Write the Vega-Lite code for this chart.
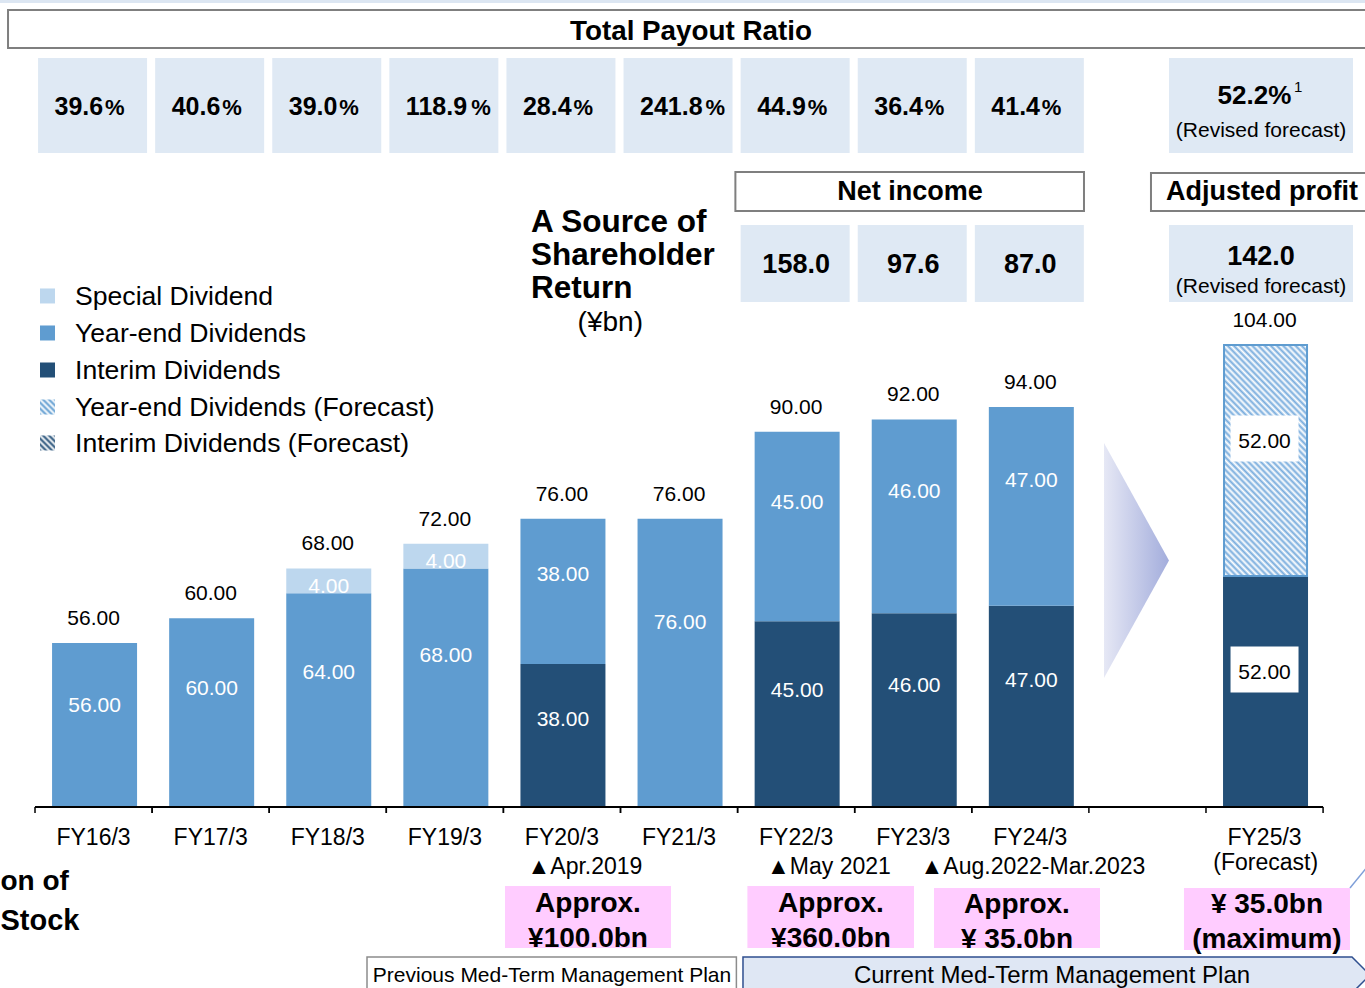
{
"$schema":"https://vega.github.io/schema/vega-lite/v6.json",
"width":1365,"height":988,"padding":0,
"autosize":{"type":"fit","contains":"padding"},
"background":"#ffffff",
"config":{"view":{"stroke":null},"font":"Liberation Sans","text":{"font":"Liberation Sans","color":"#000000"}},
"datasets":{
"bars":[
{"fy":"FY16/3","i":0,"kind":"Year-end Dividends","lo":29.6,"hi":56,"value":56},
{"fy":"FY17/3","i":1,"kind":"Year-end Dividends","lo":29.6,"hi":60,"value":60},
{"fy":"FY18/3","i":2,"kind":"Year-end Dividends","lo":29.6,"hi":64,"value":64},
{"fy":"FY18/3","i":2,"kind":"Special Dividend","lo":64,"hi":68,"value":4},
{"fy":"FY19/3","i":3,"kind":"Year-end Dividends","lo":29.6,"hi":68,"value":68},
{"fy":"FY19/3","i":3,"kind":"Special Dividend","lo":68,"hi":72,"value":4},
{"fy":"FY20/3","i":4,"kind":"Interim Dividends","lo":29.6,"hi":52.6,"value":38},
{"fy":"FY20/3","i":4,"kind":"Year-end Dividends","lo":52.6,"hi":76,"value":38},
{"fy":"FY21/3","i":5,"kind":"Year-end Dividends","lo":29.6,"hi":76,"value":76},
{"fy":"FY22/3","i":6,"kind":"Interim Dividends","lo":29.6,"hi":59.5,"value":45},
{"fy":"FY22/3","i":6,"kind":"Year-end Dividends","lo":59.5,"hi":90,"value":45},
{"fy":"FY23/3","i":7,"kind":"Interim Dividends","lo":29.6,"hi":60.8,"value":46},
{"fy":"FY23/3","i":7,"kind":"Year-end Dividends","lo":60.8,"hi":92,"value":46},
{"fy":"FY24/3","i":8,"kind":"Interim Dividends","lo":29.6,"hi":62,"value":47},
{"fy":"FY24/3","i":8,"kind":"Year-end Dividends","lo":62,"hi":94,"value":47},
{"fy":"FY25/3","i":10,"kind":"Interim Dividends","lo":29.6,"hi":66.8,"value":52},
{"fy":"FY25/3","i":10,"kind":"Year-end Dividends (Forecast)","lo":66.8,"hi":104,"value":52}
],
"ratios":[
{"fy":"FY16/3","i":0,"ratio":39.6},{"fy":"FY17/3","i":1,"ratio":40.6},{"fy":"FY18/3","i":2,"ratio":39.0},
{"fy":"FY19/3","i":3,"ratio":118.9},{"fy":"FY20/3","i":4,"ratio":28.4},{"fy":"FY21/3","i":5,"ratio":241.8},
{"fy":"FY22/3","i":6,"ratio":44.9},{"fy":"FY23/3","i":7,"ratio":36.4},{"fy":"FY24/3","i":8,"ratio":41.4}
],
"income":[
{"fy":"FY22/3","i":6,"income":158.0},{"fy":"FY23/3","i":7,"income":97.6},{"fy":"FY24/3","i":8,"income":87.0}
]
},
"layer":[
{"data":{"values":[{"n":1}]},"mark":{"type":"rect","color":"#dce6f2","clip":true},"encoding":{"x":{"datum":-0.799,"type":"quantitative","scale":{"domain":[-0.799,10.858],"nice":false,"zero":false,"padding":0},"axis":null},"x2":{"datum":10.858},"y":{"datum":159.54,"type":"quantitative","scale":{"domain":[0.445,159.54],"nice":false,"zero":false,"padding":0},"axis":null},"y2":{"datum":159.06}}},
{"data":{"values":[{"n":1}]},"mark":{"type":"rect","fill":"#ffffff","stroke":"#7f7f7f","strokeWidth":2,"clip":true},"encoding":{"x":{"datum":-0.7305,"type":"quantitative"},"x2":{"datum":10.95},"y":{"datum":157.933,"type":"quantitative"},"y2":{"datum":151.814}}},
{"data":{"values":[{"t":"Total Payout Ratio"}]},"mark":{"type":"text","fontSize":27.8,"fontWeight":"bold","align":"center","baseline":"middle"},"encoding":{"x":{"datum":5.102,"type":"quantitative"},"y":{"datum":154.39,"type":"quantitative"},"text":{"field":"t","type":"nominal"}}},
{"data":{"name":"ratios"},"mark":{"type":"bar","color":"#dfe9f4","width":109,"xOffset":-1},"encoding":{"x":{"field":"i","type":"quantitative"},"y":{"datum":150.204,"type":"quantitative"},"y2":{"datum":134.906}}},
{"data":{"values":[{"n":1}]},"mark":{"type":"rect","color":"#dfe9f4"},"encoding":{"x":{"datum":9.184,"type":"quantitative"},"x2":{"datum":10.7553},"y":{"datum":150.204,"type":"quantitative"},"y2":{"datum":134.906}}},
{"data":{"name":"ratios"},"mark":{"type":"text","fontSize":25,"fontWeight":"bold","align":"left","baseline":"alphabetic","dx":-39},"encoding":{"x":{"field":"i","type":"quantitative"},"y":{"datum":141.03,"type":"quantitative"},"text":{"field":"ratio","type":"quantitative","format":".1f"}}},
{"data":{"name":"ratios"},"transform":[{"filter":"datum.ratio < 100"}],"mark":{"type":"text","text":"%","fontSize":22,"fontWeight":"bold","align":"left","baseline":"alphabetic","dx":11.5},"encoding":{"x":{"field":"i","type":"quantitative"},"y":{"datum":141.03,"type":"quantitative"}}},
{"data":{"name":"ratios"},"transform":[{"filter":"datum.ratio >= 100"}],"mark":{"type":"text","text":"%","fontSize":22,"fontWeight":"bold","align":"left","baseline":"alphabetic","dx":26.5},"encoding":{"x":{"field":"i","type":"quantitative"},"y":{"datum":141.03,"type":"quantitative"}}},
{"data":{"values":[{"t":"52.2%"}]},"mark":{"type":"text","fontSize":26,"fontWeight":"bold","align":"center","baseline":"alphabetic"},"encoding":{"x":{"datum":9.914,"type":"quantitative"},"y":{"datum":142.8,"type":"quantitative"},"text":{"field":"t","type":"nominal"}}},
{"data":{"values":[{"t":"1"}]},"mark":{"type":"text","fontSize":15,"align":"left","baseline":"alphabetic"},"encoding":{"x":{"datum":10.2515,"type":"quantitative"},"y":{"datum":144.73,"type":"quantitative"},"text":{"field":"t","type":"nominal"}}},
{"data":{"values":[{"t":"(Revised forecast)"}]},"mark":{"type":"text","fontSize":21,"align":"center","baseline":"middle"},"encoding":{"x":{"datum":9.97,"type":"quantitative"},"y":{"datum":138.449,"type":"quantitative"},"text":{"field":"t","type":"nominal"}}},
{"data":{"values":[{"n":1}]},"mark":{"type":"rect","fill":"#ffffff","stroke":"#7f7f7f","strokeWidth":2},"encoding":{"x":{"datum":5.4812,"type":"quantitative"},"x2":{"datum":8.4582},"y":{"datum":131.846,"type":"quantitative"},"y2":{"datum":125.566}}},
{"data":{"values":[{"t":"Net income"}]},"mark":{"type":"text","fontSize":27,"fontWeight":"bold","align":"center","baseline":"middle"},"encoding":{"x":{"datum":6.9722,"type":"quantitative"},"y":{"datum":128.626,"type":"quantitative"},"text":{"field":"t","type":"nominal"}}},
{"data":{"values":[{"n":1}]},"mark":{"type":"rect","fill":"#ffffff","stroke":"#7f7f7f","strokeWidth":2,"clip":true},"encoding":{"x":{"datum":9.0303,"type":"quantitative"},"x2":{"datum":10.9432},"y":{"datum":131.685,"type":"quantitative"},"y2":{"datum":125.566}}},
{"data":{"values":[{"t":"Adjusted profit"}]},"mark":{"type":"text","fontSize":27,"fontWeight":"bold","align":"center","baseline":"middle"},"encoding":{"x":{"datum":9.978,"type":"quantitative"},"y":{"datum":128.626,"type":"quantitative"},"text":{"field":"t","type":"nominal"}}},
{"data":{"name":"income"},"mark":{"type":"bar","color":"#dfe9f4","width":109,"xOffset":-1},"encoding":{"x":{"field":"i","type":"quantitative"},"y":{"datum":123.312,"type":"quantitative"},"y2":{"datum":110.912}}},
{"data":{"name":"income"},"mark":{"type":"text","fontSize":27,"fontWeight":"bold","align":"center","baseline":"middle"},"encoding":{"x":{"field":"i","type":"quantitative"},"y":{"datum":116.87,"type":"quantitative"},"text":{"field":"income","type":"quantitative","format":".1f"}}},
{"data":{"values":[{"n":1}]},"mark":{"type":"rect","color":"#dfe9f4"},"encoding":{"x":{"datum":9.184,"type":"quantitative"},"x2":{"datum":10.7553},"y":{"datum":123.312,"type":"quantitative"},"y2":{"datum":110.912}}},
{"data":{"values":[{"t":"142.0"}]},"mark":{"type":"text","fontSize":27,"fontWeight":"bold","align":"center","baseline":"middle"},"encoding":{"x":{"datum":9.97,"type":"quantitative"},"y":{"datum":118.159,"type":"quantitative"},"text":{"field":"t","type":"nominal"}}},
{"data":{"values":[{"t":"(Revised forecast)"}]},"mark":{"type":"text","fontSize":21,"align":"center","baseline":"middle"},"encoding":{"x":{"datum":9.97,"type":"quantitative"},"y":{"datum":113.328,"type":"quantitative"},"text":{"field":"t","type":"nominal"}}},
{"data":{"values":[{"t":["A Source of","Shareholder","Return"]}]},"mark":{"type":"text","fontSize":31.5,"fontWeight":"bold","align":"left","baseline":"top","lineHeight":33},"encoding":{"x":{"datum":3.7357,"type":"quantitative"},"y":{"datum":126.13,"type":"quantitative"},"text":{"field":"t","type":"nominal"}}},
{"data":{"values":[{"t":"(¥bn)"}]},"mark":{"type":"text","fontSize":28,"align":"center","baseline":"middle"},"encoding":{"x":{"datum":4.4129,"type":"quantitative"},"y":{"datum":107.531,"type":"quantitative"},"text":{"field":"t","type":"nominal"}}},
{"data":{"values":[{"t":["Special Dividend","Year-end Dividends","Interim Dividends","Year-end Dividends (Forecast)","Interim Dividends (Forecast)"]}]},"mark":{"type":"text","fontSize":26.6,"align":"left","baseline":"top","lineHeight":36.75},"encoding":{"x":{"datum":-0.1584,"type":"quantitative"},"y":{"datum":113.76,"type":"quantitative"},"text":{"field":"t","type":"nominal"}}},
{"data":{"values":[{"n":1}]},"mark":{"type":"point","shape":"square","size":225,"filled":true,"opacity":1,"color":"#bdd7ee"},"encoding":{"x":{"datum":-0.3933,"type":"quantitative"},"y":{"datum":111.88,"type":"quantitative"}}},
{"data":{"values":[{"n":1}]},"mark":{"type":"point","shape":"square","size":225,"filled":true,"opacity":1,"color":"#5f9cd0"},"encoding":{"x":{"datum":-0.3933,"type":"quantitative"},"y":{"datum":105.92,"type":"quantitative"}}},
{"data":{"values":[{"n":1}]},"mark":{"type":"point","shape":"square","size":225,"filled":true,"opacity":1,"color":"#234f77"},"encoding":{"x":{"datum":-0.3933,"type":"quantitative"},"y":{"datum":99.96,"type":"quantitative"}}},
{"data":{"values":[{"n":1}]},"mark":{"type":"point","shape":"square","size":225,"filled":true,"opacity":1,"fill":{"gradient":"linear","x1":0,"y1":1,"x2":1,"y2":0,"stops":[{"offset":0,"color":"#5f9cd0"},{"offset":0.1,"color":"#ffffff"},{"offset":0.2,"color":"#5f9cd0"},{"offset":0.3,"color":"#ffffff"},{"offset":0.4,"color":"#5f9cd0"},{"offset":0.5,"color":"#ffffff"},{"offset":0.6,"color":"#5f9cd0"},{"offset":0.7,"color":"#ffffff"},{"offset":0.8,"color":"#5f9cd0"},{"offset":0.9,"color":"#ffffff"},{"offset":1,"color":"#5f9cd0"}]}},"encoding":{"x":{"datum":-0.3933,"type":"quantitative"},"y":{"datum":94.0,"type":"quantitative"}}},
{"data":{"values":[{"n":1}]},"mark":{"type":"point","shape":"square","size":225,"filled":true,"opacity":1,"fill":{"gradient":"linear","x1":0,"y1":1,"x2":1,"y2":0,"stops":[{"offset":0,"color":"#234f77"},{"offset":0.1,"color":"#ffffff"},{"offset":0.2,"color":"#234f77"},{"offset":0.3,"color":"#ffffff"},{"offset":0.4,"color":"#234f77"},{"offset":0.5,"color":"#ffffff"},{"offset":0.6,"color":"#234f77"},{"offset":0.7,"color":"#ffffff"},{"offset":0.8,"color":"#234f77"},{"offset":0.9,"color":"#ffffff"},{"offset":1,"color":"#234f77"}]}},"encoding":{"x":{"datum":-0.3933,"type":"quantitative"},"y":{"datum":88.21,"type":"quantitative"}}},
{"data":{"name":"bars"},"transform":[{"filter":"datum.kind != 'Year-end Dividends (Forecast)'"}],"mark":{"type":"bar","width":85,"xOffset":1},"encoding":{"x":{"field":"i","type":"quantitative"},"y":{"field":"lo","type":"quantitative"},"y2":{"field":"hi"},"color":{"field":"kind","type":"nominal","scale":{"domain":["Special Dividend","Year-end Dividends","Interim Dividends"],"range":["#bdd7ee","#5f9cd0","#234f77"]},"legend":null}}},
{"data":{"name":"bars"},"transform":[{"filter":"datum.kind == 'Year-end Dividends (Forecast)'"}],"mark":{"type":"bar","width":83,"xOffset":1,"stroke":"#5f9cd0","strokeWidth":2,"fill":{"gradient":"linear","x1":0,"y1":1,"x2":0.4435,"y2":-0.205,"stops":[
{"offset":0,"color":"#78acdd"},{"offset":0.01,"color":"#ffffff"},{"offset":0.02,"color":"#78acdd"},{"offset":0.03,"color":"#ffffff"},{"offset":0.04,"color":"#78acdd"},{"offset":0.05,"color":"#ffffff"},{"offset":0.06,"color":"#78acdd"},{"offset":0.07,"color":"#ffffff"},{"offset":0.08,"color":"#78acdd"},{"offset":0.09,"color":"#ffffff"},
{"offset":0.1,"color":"#78acdd"},{"offset":0.11,"color":"#ffffff"},{"offset":0.12,"color":"#78acdd"},{"offset":0.13,"color":"#ffffff"},{"offset":0.14,"color":"#78acdd"},{"offset":0.15,"color":"#ffffff"},{"offset":0.16,"color":"#78acdd"},{"offset":0.17,"color":"#ffffff"},{"offset":0.18,"color":"#78acdd"},{"offset":0.19,"color":"#ffffff"},
{"offset":0.2,"color":"#78acdd"},{"offset":0.21,"color":"#ffffff"},{"offset":0.22,"color":"#78acdd"},{"offset":0.23,"color":"#ffffff"},{"offset":0.24,"color":"#78acdd"},{"offset":0.25,"color":"#ffffff"},{"offset":0.26,"color":"#78acdd"},{"offset":0.27,"color":"#ffffff"},{"offset":0.28,"color":"#78acdd"},{"offset":0.29,"color":"#ffffff"},
{"offset":0.3,"color":"#78acdd"},{"offset":0.31,"color":"#ffffff"},{"offset":0.32,"color":"#78acdd"},{"offset":0.33,"color":"#ffffff"},{"offset":0.34,"color":"#78acdd"},{"offset":0.35,"color":"#ffffff"},{"offset":0.36,"color":"#78acdd"},{"offset":0.37,"color":"#ffffff"},{"offset":0.38,"color":"#78acdd"},{"offset":0.39,"color":"#ffffff"},
{"offset":0.4,"color":"#78acdd"},{"offset":0.41,"color":"#ffffff"},{"offset":0.42,"color":"#78acdd"},{"offset":0.43,"color":"#ffffff"},{"offset":0.44,"color":"#78acdd"},{"offset":0.45,"color":"#ffffff"},{"offset":0.46,"color":"#78acdd"},{"offset":0.47,"color":"#ffffff"},{"offset":0.48,"color":"#78acdd"},{"offset":0.49,"color":"#ffffff"},
{"offset":0.5,"color":"#78acdd"},{"offset":0.51,"color":"#ffffff"},{"offset":0.52,"color":"#78acdd"},{"offset":0.53,"color":"#ffffff"},{"offset":0.54,"color":"#78acdd"},{"offset":0.55,"color":"#ffffff"},{"offset":0.56,"color":"#78acdd"},{"offset":0.57,"color":"#ffffff"},{"offset":0.58,"color":"#78acdd"},{"offset":0.59,"color":"#ffffff"},
{"offset":0.6,"color":"#78acdd"},{"offset":0.61,"color":"#ffffff"},{"offset":0.62,"color":"#78acdd"},{"offset":0.63,"color":"#ffffff"},{"offset":0.64,"color":"#78acdd"},{"offset":0.65,"color":"#ffffff"},{"offset":0.66,"color":"#78acdd"},{"offset":0.67,"color":"#ffffff"},{"offset":0.68,"color":"#78acdd"},{"offset":0.69,"color":"#ffffff"},
{"offset":0.7,"color":"#78acdd"},{"offset":0.71,"color":"#ffffff"},{"offset":0.72,"color":"#78acdd"},{"offset":0.73,"color":"#ffffff"},{"offset":0.74,"color":"#78acdd"},{"offset":0.75,"color":"#ffffff"},{"offset":0.76,"color":"#78acdd"},{"offset":0.77,"color":"#ffffff"},{"offset":0.78,"color":"#78acdd"},{"offset":0.79,"color":"#ffffff"},
{"offset":0.8,"color":"#78acdd"},{"offset":0.81,"color":"#ffffff"},{"offset":0.82,"color":"#78acdd"},{"offset":0.83,"color":"#ffffff"},{"offset":0.84,"color":"#78acdd"},{"offset":0.85,"color":"#ffffff"},{"offset":0.86,"color":"#78acdd"},{"offset":0.87,"color":"#ffffff"},{"offset":0.88,"color":"#78acdd"},{"offset":0.89,"color":"#ffffff"},
{"offset":0.9,"color":"#78acdd"},{"offset":0.91,"color":"#ffffff"},{"offset":0.92,"color":"#78acdd"},{"offset":0.93,"color":"#ffffff"},{"offset":0.94,"color":"#78acdd"},{"offset":0.95,"color":"#ffffff"},{"offset":0.96,"color":"#78acdd"},{"offset":0.97,"color":"#ffffff"},{"offset":0.98,"color":"#78acdd"},{"offset":0.99,"color":"#ffffff"},
{"offset":1,"color":"#78acdd"}]}},"encoding":{"x":{"field":"i","type":"quantitative"},"y":{"field":"lo","type":"quantitative"},"y2":{"field":"hi"}}},
{"data":{"values":[{"n":1}]},"mark":{"type":"rule","color":"#000000","strokeWidth":2},"encoding":{"x":{"datum":-0.5,"type":"quantitative"},"x2":{"datum":10.5},"y":{"datum":29.592,"type":"quantitative"}}},
{"data":{"name":"bars"},"transform":[{"aggregate":[{"op":"count","as":"n"}],"groupby":["i"]}],"mark":{"type":"rule","color":"#000000","strokeWidth":1.5,"xOffset":-58.55},"encoding":{"x":{"field":"i","type":"quantitative"},"y":{"datum":29.592,"type":"quantitative"},"y2":{"datum":28.625}}},
{"data":{"name":"bars"},"transform":[{"aggregate":[{"op":"count","as":"n"}],"groupby":["i"]}],"mark":{"type":"rule","color":"#000000","strokeWidth":1.5,"xOffset":58.55},"encoding":{"x":{"field":"i","type":"quantitative"},"y":{"datum":29.592,"type":"quantitative"},"y2":{"datum":28.625}}},
{"data":{"name":"bars"},"transform":[{"fold":["lo","hi","hi"],"as":["edge","yv"]},{"aggregate":[{"op":"mean","field":"yv","as":"mid"}],"groupby":["fy","i","kind","value"]},{"filter":"datum.i < 10 && datum.kind != 'Special Dividend'"}],"mark":{"type":"text","fontSize":21,"color":"#ffffff","align":"center","baseline":"middle","dy":8,"dx":1},"encoding":{"x":{"field":"i","type":"quantitative"},"y":{"field":"mid","type":"quantitative"},"text":{"field":"value","type":"quantitative","format":".2f"}}},
{"data":{"name":"bars"},"transform":[{"fold":["lo","hi"],"as":["edge","yv"]},{"aggregate":[{"op":"mean","field":"yv","as":"mid"}],"groupby":["fy","i","kind","value"]},{"filter":"datum.kind == 'Special Dividend'"}],"mark":{"type":"text","fontSize":21,"color":"#ffffff","align":"center","baseline":"middle","dy":6,"dx":1},"encoding":{"x":{"field":"i","type":"quantitative"},"y":{"field":"mid","type":"quantitative"},"text":{"field":"value","type":"quantitative","format":".2f"}}},
{"data":{"name":"bars"},"transform":[{"fold":["lo","hi"],"as":["edge","yv"]},{"aggregate":[{"op":"mean","field":"yv","as":"mid"}],"groupby":["fy","i","kind","value"]},{"filter":"datum.i == 10"}],"mark":{"type":"point","shape":"M-1,-0.676L1,-0.676L1,0.676L-1,0.676Z","size":4624,"filled":true,"opacity":1,"color":"#ffffff","yOffset":-22},"encoding":{"x":{"field":"i","type":"quantitative"},"y":{"field":"mid","type":"quantitative"}}},
{"data":{"name":"bars"},"transform":[{"fold":["lo","hi"],"as":["edge","yv"]},{"aggregate":[{"op":"mean","field":"yv","as":"mid"}],"groupby":["fy","i","kind","value"]},{"filter":"datum.i == 10"}],"mark":{"type":"text","fontSize":21,"color":"#000000","align":"center","baseline":"middle","dy":-18},"encoding":{"x":{"field":"i","type":"quantitative"},"y":{"field":"mid","type":"quantitative"},"text":{"field":"value","type":"quantitative","format":".2f"}}},
{"data":{"name":"bars"},"transform":[{"aggregate":[{"op":"max","field":"hi","as":"top"},{"op":"sum","field":"value","as":"total"}],"groupby":["fy","i"]}],"mark":{"type":"text","fontSize":21,"align":"center","baseline":"middle","dy":-24},"encoding":{"x":{"field":"i","type":"quantitative"},"y":{"field":"top","type":"quantitative"},"text":{"field":"total","type":"quantitative","format":".2f"}}},
{"data":{"name":"bars"},"transform":[{"aggregate":[{"op":"count","as":"n"}],"groupby":["fy","i"]}],"mark":{"type":"text","fontSize":23,"align":"center","baseline":"middle"},"encoding":{"x":{"field":"i","type":"quantitative"},"y":{"datum":24.6,"type":"quantitative"},"text":{"field":"fy","type":"nominal"}}},
{"data":{"values":[{"t":"(Forecast)"}]},"mark":{"type":"text","fontSize":23,"align":"center","baseline":"middle"},"encoding":{"x":{"datum":10.01,"type":"quantitative"},"y":{"datum":20.5,"type":"quantitative"},"text":{"field":"t","type":"nominal"}}},
{"data":{"values":[{"n":1}]},"mark":{"type":"point","shape":"M-0.2766,-1L0.2766,0L-0.2766,1Z","size":55225,"filled":true,"opacity":1,"strokeWidth":0,"fill":{"gradient":"linear","x1":0,"y1":0,"x2":1,"y2":0,"stops":[{"offset":0,"color":"#e6e8f5"},{"offset":1,"color":"#a3addc"}]}},"encoding":{"x":{"datum":8.9065,"type":"quantitative"},"y":{"datum":69.286,"type":"quantitative"}}},
{"data":{"values":[{"t":"▲Apr.2019"}]},"mark":{"type":"text","fontSize":23,"align":"center","baseline":"middle"},"encoding":{"x":{"datum":4.1968,"type":"quantitative"},"y":{"datum":19.93,"type":"quantitative"},"text":{"field":"t","type":"nominal"}}},
{"data":{"values":[{"t":"▲May 2021"}]},"mark":{"type":"text","fontSize":23,"align":"center","baseline":"middle"},"encoding":{"x":{"datum":6.2805,"type":"quantitative"},"y":{"datum":19.93,"type":"quantitative"},"text":{"field":"t","type":"nominal"}}},
{"data":{"values":[{"t":"▲Aug.2022-Mar.2023"}]},"mark":{"type":"text","fontSize":23,"align":"center","baseline":"middle"},"encoding":{"x":{"datum":8.0226,"type":"quantitative"},"y":{"datum":19.93,"type":"quantitative"},"text":{"field":"t","type":"nominal"}}},
{"data":{"values":[{"n":1}]},"mark":{"type":"rect","color":"#ffccff"},"encoding":{"x":{"datum":3.5137,"type":"quantitative"},"x2":{"datum":4.9313},"y":{"datum":16.87,"type":"quantitative"},"y2":{"datum":6.886}}},
{"data":{"values":[{"t":["Approx.","¥100.0bn"]}]},"mark":{"type":"text","fontSize":28,"fontWeight":"bold","align":"center","baseline":"top","lineHeight":35},"encoding":{"x":{"datum":4.2224,"type":"quantitative"},"y":{"datum":16.226,"type":"quantitative"},"text":{"field":"t","type":"nominal"}}},
{"data":{"values":[{"n":1}]},"mark":{"type":"rect","color":"#ffccff"},"encoding":{"x":{"datum":5.5837,"type":"quantitative"},"x2":{"datum":7.0064},"y":{"datum":16.87,"type":"quantitative"},"y2":{"datum":6.886}}},
{"data":{"values":[{"t":["Approx.","¥360.0bn"]}]},"mark":{"type":"text","fontSize":28,"fontWeight":"bold","align":"center","baseline":"top","lineHeight":35},"encoding":{"x":{"datum":6.2976,"type":"quantitative"},"y":{"datum":16.226,"type":"quantitative"},"text":{"field":"t","type":"nominal"}}},
{"data":{"values":[{"n":1}]},"mark":{"type":"rect","color":"#ffccff"},"encoding":{"x":{"datum":7.1772,"type":"quantitative"},"x2":{"datum":8.5948},"y":{"datum":16.548,"type":"quantitative"},"y2":{"datum":6.886}}},
{"data":{"values":[{"t":["Approx.","¥ 35.0bn"]}]},"mark":{"type":"text","fontSize":28,"fontWeight":"bold","align":"center","baseline":"top","lineHeight":35},"encoding":{"x":{"datum":7.886,"type":"quantitative"},"y":{"datum":16.0,"type":"quantitative"},"text":{"field":"t","type":"nominal"}}},
{"data":{"values":[{"n":1}]},"mark":{"type":"rect","color":"#ffccff"},"encoding":{"x":{"datum":9.3121,"type":"quantitative"},"x2":{"datum":10.7297},"y":{"datum":16.548,"type":"quantitative"},"y2":{"datum":6.564}}},
{"data":{"values":[{"t":["¥ 35.0bn","(maximum)"]}]},"mark":{"type":"text","fontSize":28,"fontWeight":"bold","align":"center","baseline":"top","lineHeight":35},"encoding":{"x":{"datum":10.0209,"type":"quantitative"},"y":{"datum":16.0,"type":"quantitative"},"text":{"field":"t","type":"nominal"}}},
{"data":{"values":[{"t":"on of"}]},"mark":{"type":"text","fontSize":28,"fontWeight":"bold","align":"left","baseline":"middle"},"encoding":{"x":{"datum":-0.795,"type":"quantitative"},"y":{"datum":17.514,"type":"quantitative"},"text":{"field":"t","type":"nominal"}}},
{"data":{"values":[{"t":"Stock"}]},"mark":{"type":"text","fontSize":29,"fontWeight":"bold","align":"left","baseline":"middle"},"encoding":{"x":{"datum":-0.795,"type":"quantitative"},"y":{"datum":11.234,"type":"quantitative"},"text":{"field":"t","type":"nominal"}}},
{"data":{"values":[{"n":1}]},"mark":{"type":"rect","fill":"#ffffff","stroke":"#8c8c8c","strokeWidth":1.5,"clip":true},"encoding":{"x":{"datum":2.3352,"type":"quantitative"},"x2":{"datum":5.4897},"y":{"datum":5.437,"type":"quantitative"},"y2":{"datum":0.123}}},
{"data":{"values":[{"t":"Previous Med-Term Management Plan"}]},"mark":{"type":"text","fontSize":21,"align":"center","baseline":"middle"},"encoding":{"x":{"datum":3.915,"type":"quantitative"},"y":{"datum":2.45,"type":"quantitative"},"text":{"field":"t","type":"nominal"}}},
{"data":{"values":[{"n":1}]},"mark":{"type":"point","shape":"M-1,-0.0574L0.9426,-0.0574L1,0L0.9426,0.0574L-1,0.0574Z","size":393129,"filled":true,"opacity":1,"fill":"#dfe7f4","stroke":"#2f4f8f","strokeWidth":1.5,"clip":true},"encoding":{"x":{"datum":8.2233,"type":"quantitative"},"y":{"datum":2.538,"type":"quantitative"}}},
{"data":{"values":[{"t":"Current Med-Term Management Plan"}]},"mark":{"type":"text","fontSize":24,"align":"center","baseline":"middle"},"encoding":{"x":{"datum":8.185,"type":"quantitative"},"y":{"datum":2.45,"type":"quantitative"},"text":{"field":"t","type":"nominal"}}},
{"data":{"values":[{"n":1}]},"mark":{"type":"rule","color":"#7f9fd8","strokeWidth":1.5,"clip":true},"encoding":{"x":{"datum":10.7297,"type":"quantitative"},"x2":{"datum":10.8834},"y":{"datum":16.548,"type":"quantitative"},"y2":{"datum":20.091}}}
]
}
